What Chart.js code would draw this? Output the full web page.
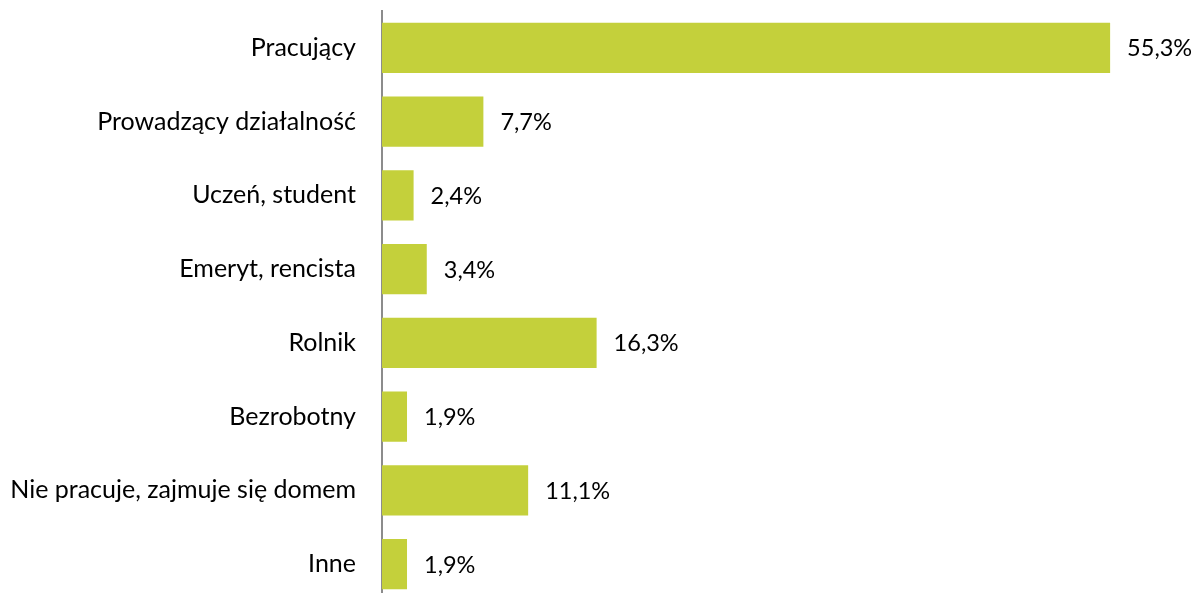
<!DOCTYPE html>
<html>
<head>
<meta charset="utf-8">
<script src="https://cdn.jsdelivr.net/npm/chart.js@4"></script>
<style>
  html, body { margin: 0; padding: 0; background: #fff; overflow: hidden; }
  canvas { display: block; }
</style>
</head>
<body>
<canvas id="c" width="1195" height="602"></canvas>
<script>
const categories = ["Pracujący", "Prowadzący działalność", "Uczeń, student", "Emeryt, rencista", "Rolnik", "Bezrobotny", "Nie pracuje, zajmuje się domem", "Inne"];
const values = [55.3, 7.7, 2.4, 3.4, 16.3, 1.9, 11.1, 1.9];
const valueLabels = ["55,3%", "7,7%", "2,4%", "3,4%", "16,3%", "1,9%", "11,1%", "1,9%"];

const FONT = "Lato, 'Open Sans', sans-serif";
const FSIZE = 25;
const LSIZE = 23.5;

const labelPlugin = {
  id: 'valueLabels',
  afterDatasetsDraw(chart) {
    const ctx = chart.ctx;
    const meta = chart.getDatasetMeta(0);
    ctx.save();
    ctx.font = LSIZE + "px " + FONT;
    ctx.fillStyle = "#000";
    ctx.textAlign = "left";
    ctx.textBaseline = "middle";
    meta.data.forEach((bar, i) => {
      ctx.fillText(valueLabels[i], bar.x + 17, bar.y + 1);
    });
    ctx.restore();
  }
};

new Chart(document.getElementById('c'), {
  type: 'bar',
  data: {
    labels: categories,
    datasets: [{
      data: values,
      backgroundColor: '#C4D03B',
      borderWidth: 0,
      barPercentage: 0.678,
      categoryPercentage: 1.0
    }]
  },
  options: {
    indexAxis: 'y',
    responsive: false,
    maintainAspectRatio: false,
    animation: false,
    layout: { padding: { top: 11, right: 23, bottom: 1, left: 0 } },
    plugins: { legend: { display: false }, tooltip: { enabled: false } },
    scales: {
      x: {
        display: false,
        min: 0,
        max: 60
      },
      y: {
        grid: { display: false, drawTicks: false },
        border: { display: true, color: '#8c8c8c', width: 2 },
        ticks: {
          color: '#000',
          padding: 26,
          font: { family: FONT, size: FSIZE }
        },
        afterFit(scale) {
          scale.width = 382;
          scale.paddingTop = 0;
          scale.paddingBottom = 0;
        }
      }
    }
  },
  plugins: [labelPlugin]
});
</script>
</body>
</html>
